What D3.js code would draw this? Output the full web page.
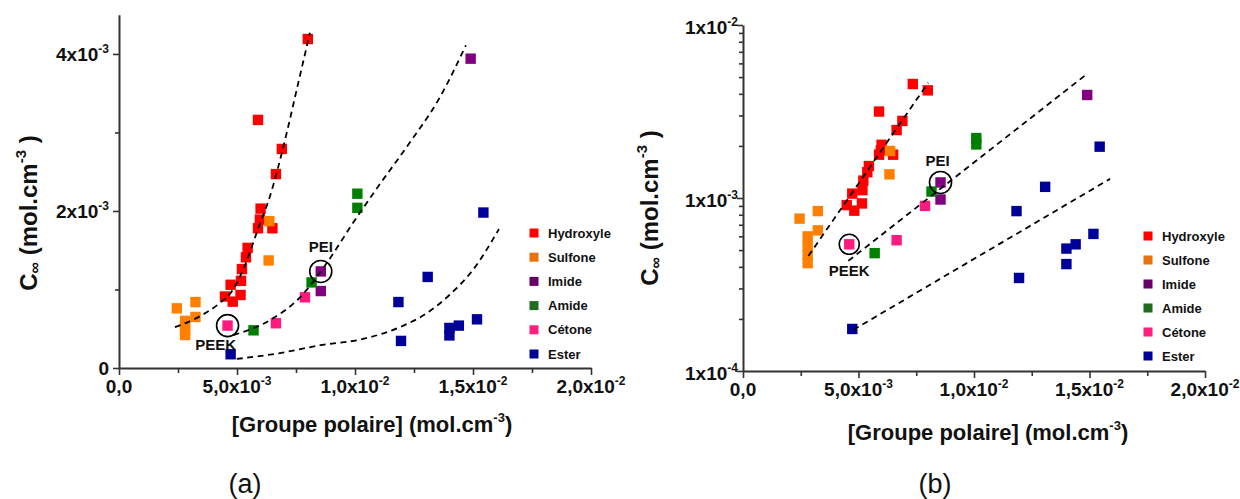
<!DOCTYPE html>
<html><head><meta charset="utf-8">
<script src="https://cdn.jsdelivr.net/npm/d3@7"></script>
<style>
body{margin:0;background:#fff}
svg{display:block}
text{font-family:"Liberation Sans",Arial,Helvetica,sans-serif}
</style>
</head><body>
<svg id="c" width="1240" height="499"></svg>
<script>
// ---------------- DATA ----------------
const categories = ["Hydroxyle","Sulfone","Imide","Amide","Cétone","Ester"];

const hydroxyleX = [7.35e-3,8.0e-3,5.89e-3,6.9e-3,6.65e-3,6.0e-3,5.97e-3,5.89e-3,6.5e-3,5.45e-3,5.38e-3,5.21e-3,5.17e-3,4.73e-3,5.15e-3,4.49e-3,4.82e-3];
const hydroxyleY = [4.56e-3,4.19e-3,3.16e-3,2.79e-3,2.47e-3,2.03e-3,1.89e-3,1.78e-3,1.78e-3,1.53e-3,1.41e-3,1.26e-3,1.11e-3,1.06e-3,0.93e-3,0.91e-3,0.845e-3];

const sulfoneX = [6.37e-3,6.34e-3,3.24e-3,3.24e-3,2.45e-3,2.8e-3,2.8e-3,2.8e-3,2.8e-3];
const sulfoneY = [1.87e-3,1.37e-3,0.84e-3,0.65e-3,0.76e-3,0.60e-3,0.53e-3,0.47e-3,0.42e-3];

const imideX = [8.55e-3,8.55e-3,14.9e-3];
const imideY = [1.23e-3,0.98e-3,3.94e-3];

const amideX = [5.7e-3,8.16e-3,10.1e-3,10.1e-3];
const amideY = [0.48e-3,1.09e-3,2.22e-3,2.04e-3];

const cetoneX = [4.6e-3,6.65e-3,7.88e-3];
const cetoneY = [0.54e-3,0.57e-3,0.90e-3];

const esterX = [4.73e-3,11.84e-3,11.95e-3,13.08e-3,14.0e-3,14.0e-3,14.4e-3,15.17e-3,15.44e-3];
const esterY = [0.175e-3,0.84e-3,0.345e-3,1.16e-3,0.51e-3,0.415e-3,0.54e-3,0.62e-3,1.98e-3];

// Fitted trend curves (linear axes)
const fitA1X = [2.37e-3,3.43e-3,4.28e-3,4.79e-3,5.34e-3,5.89e-3,6.40e-3,6.95e-3,7.58e-3,8.09e-3];
const fitA1Y = [0.52e-3,0.66e-3,0.83e-3,0.98e-3,1.31e-3,1.77e-3,2.19e-3,2.80e-3,3.61e-3,4.27e-3];
const fitA2X = [4.85e-3,6.40e-3,7.67e-3,8.81e-3,9.92e-3,10.93e-3,12.2e-3,13.6e-3,14.7e-3];
const fitA2Y = [0.42e-3,0.61e-3,0.90e-3,1.34e-3,1.85e-3,2.29e-3,2.82e-3,3.45e-3,4.11e-3];
const fitA3X = [4.99e-3,6.82e-3,8.52e-3,10.34e-3,11.9e-3,13.05e-3,14.0e-3,15.0e-3,16.1e-3];
const fitA3Y = [0.115e-3,0.19e-3,0.29e-3,0.37e-3,0.52e-3,0.70e-3,0.93e-3,1.25e-3,1.77e-3];

// Fitted trend lines (log y axis): endpoints
const fitB1X = [2.83e-3,8.02e-3];  const fitB1Y = [4.62e-4,4.64e-3];
const fitB2X = [4.56e-3,14.8e-3];  const fitB2Y = [4.33e-4,5.1e-3];
const fitB3X = [4.78e-3,15.89e-3]; const fitB3Y = [1.73e-4,1.29e-3];

// Annotated polymers
const annotNames = ["PEEK","PEI"];
const annotX = [4.6e-3,8.55e-3];
const annotY = [0.54e-3,1.23e-3];

// Ticks
const xMajorTicks = [0,0.005,0.01,0.015,0.02];
const xMinorTicks = [0.0025,0.0075,0.0125,0.0175];
const xTickBase = ["0,0","5,0x10","1,0x10","1,5x10","2,0x10"];
const xTickExp  = [null,"-3","-2","-2","-2"];
const yLinMajor = [0,0.002,0.004];
const yLinMinor = [0.001,0.003];
const yLinBase = ["0","2x10","4x10"];
const yLinExp  = [null,"-3","-3"];
const yLogMajor = [1e-4,1e-3,1e-2];
const yLogBase = ["1x10","1x10","1x10"];
const yLogExp  = ["-4","-3","-2"];

// ---------------- STYLE ----------------
const pointColors  = ["#FF0000","#FF8000","#800080","#008000","#FF1A80","#000099"];
const legendColors = ["#FF0000","#E8720C","#660066","#1F6B1F","#FF1F7F","#000099"];
const seriesX = [hydroxyleX,sulfoneX,imideX,amideX,cetoneX,esterX];
const seriesY = [hydroxyleY,sulfoneY,imideY,amideY,cetoneY,esterY];

const svg = d3.select("#c");
const TICKF = 19, SUPF = 12;

function supLabel(sel, base, exp, size, supSize) {
  sel.append("tspan").text(base);
  if (exp) sel.append("tspan").attr("font-size", supSize).attr("dy", -size*0.42).text(exp);
}

function panel(cfg) {
  const g = svg.append("g");
  const x = d3.scaleLinear().domain([0,0.02]).range([cfg.x0,cfg.x1]);
  const y = cfg.log
    ? d3.scaleLog().domain([1e-4,1e-2]).range([cfg.yBottom,cfg.yTop])
    : d3.scaleLinear().domain([0,0.0045]).range([cfg.yBottom,cfg.yTop]);
  const yMax = y.domain()[1];

  // points
  const S = 10.4;
  categories.forEach((c,i)=>{
    const pts = seriesX[i].map((v,j)=>[v,seriesY[i][j]]).filter(p=>p[1]<=yMax);
    g.append("g").selectAll("rect").data(pts).join("rect")
      .attr("x",d=>x(d[0])-S/2).attr("y",d=>y(d[1])-S/2)
      .attr("width",S).attr("height",S).attr("fill",pointColors[i]);
  });

  // fit curves
  const line = d3.line().x(d=>x(d[0])).y(d=>y(d[1]))
    .curve(cfg.log ? d3.curveLinear : d3.curveMonotoneX);
  cfg.fits.forEach(f=>{
    const pts = f[0].map((v,j)=>[v,f[1][j]]);
    g.append("path").attr("d",line(pts)).attr("fill","none")
      .attr("stroke","#000").attr("stroke-width",1.8).attr("stroke-dasharray","6,4.5");
  });

  // annotation circles and labels
  annotNames.forEach((n,i)=>{
    const cx = x(annotX[i]), cy = y(annotY[i]);
    g.append("circle").attr("cx",cx).attr("cy",cy).attr("r",cfg.circR[i])
      .attr("fill","none").attr("stroke","#000").attr("stroke-width",1.6);
    g.append("text").attr("x",cx+cfg.annOff[i][0]).attr("y",cy+cfg.annOff[i][1])
      .attr("dy","0.35em").attr("text-anchor","middle")
      .attr("font-size",15).attr("font-weight","bold").attr("fill","#111").text(n);
  });

  // axes
  const axCol = "#333";
  g.append("g").attr("transform",`translate(0,${cfg.yBottom})`)
    .call(d3.axisBottom(x).tickValues(xMajorTicks).tickSize(7).tickSizeOuter(0).tickFormat(""));
  g.append("g").attr("transform",`translate(0,${cfg.yBottom})`)
    .call(d3.axisBottom(x).tickValues(xMinorTicks).tickSize(5).tickSizeOuter(0).tickFormat(""))
    .select(".domain").remove();
  let yMinor;
  if (cfg.log) {
    yMinor = [];
    [1e-4,1e-3].forEach(d=>{ for(let k=2;k<=9;k++) yMinor.push(d*k); });
  } else yMinor = yLinMinor;
  g.append("g").attr("transform",`translate(${cfg.x0},0)`)
    .call(d3.axisLeft(y).tickValues(cfg.log?yLogMajor:yLinMajor).tickSize(6).tickSizeOuter(0).tickFormat(""));
  g.append("g").attr("transform",`translate(${cfg.x0},0)`)
    .call(d3.axisLeft(y).tickValues(yMinor).tickSize(4).tickSizeOuter(0).tickFormat(""))
    .select(".domain").remove();
  g.selectAll(".domain").attr("stroke",axCol).attr("stroke-width",2);
  g.selectAll(".tick line").attr("stroke",axCol).attr("stroke-width",1.6);

  // tick labels
  xMajorTicks.forEach((v,i)=>{
    const t = g.append("text").attr("x",x(v)).attr("y",cfg.yBottom+cfg.xLabDy)
      .attr("text-anchor","middle").attr("font-size",TICKF).attr("font-weight","bold").attr("fill","#111");
    supLabel(t,xTickBase[i],xTickExp[i],TICKF,SUPF);
  });
  const yMaj = cfg.log?yLogMajor:yLinMajor, yB = cfg.log?yLogBase:yLinBase, yE = cfg.log?yLogExp:yLinExp;
  yMaj.forEach((v,i)=>{
    const t = g.append("text").attr("x",cfg.yLabX).attr("y",y(v)+7+cfg.yLabDy)
      .attr("text-anchor","end").attr("font-size",TICKF).attr("font-weight","bold").attr("fill","#111");
    supLabel(t,yB[i],yE[i],TICKF,SUPF);
  });

  // axis titles
  const xt = g.append("text").attr("x",cfg.xTitleX).attr("y",cfg.xTitleY)
    .attr("text-anchor","middle").attr("font-size",22).attr("font-weight","bold").attr("fill","#111");
  xt.append("tspan").text("[Groupe polaire] (mol.cm");
  xt.append("tspan").attr("font-size",13).attr("dy",-10).text("-3");
  xt.append("tspan").attr("dy",10).text(")");

  const yt = g.append("text").attr("transform",`translate(${cfg.yTitleX},${cfg.yTitleY}) rotate(-90)`)
    .attr("text-anchor","middle").attr("font-size",24).attr("font-weight","bold").attr("fill","#111");
  yt.append("tspan").text("C");
  yt.append("tspan").attr("font-size",16).attr("dy",3).text("∞");
  yt.append("tspan").attr("dy",-3).text(" (mol.cm");
  yt.append("tspan").attr("font-size",15).attr("dy",-11).text("-3");
  yt.append("tspan").attr("dy",11).text(" )");

  // legend
  categories.forEach((c,i)=>{
    const ly = cfg.legY + i*cfg.legStep;
    g.append("rect").attr("x",cfg.legX-4.5).attr("y",ly-4.5).attr("width",9).attr("height",9)
      .attr("fill",legendColors[i]);
    g.append("text").attr("x",cfg.legX+14).attr("y",ly).attr("dy","0.36em")
      .attr("font-size",13).attr("font-weight","bold").attr("fill","#111").text(c);
  });

  // panel tag
  g.append("text").attr("x",cfg.tagX).attr("y",493).attr("text-anchor","middle")
    .attr("font-size",27).attr("fill","#111").text(cfg.tag);
}

panel({
  log:false, x0:119, x1:591, yBottom:368, yTop:14.7,
  fits:[[fitA1X,fitA1Y],[fitA2X,fitA2Y],[fitA3X,fitA3Y]],
  circR:[11,11], annOff:[[-12,19],[0,-25]],
  xLabDy:25, yLabX:109, yLabDy:0,
  xTitleX:372, xTitleY:432, yTitleX:37, yTitleY:213,
  legX:534, legY:233, legStep:24.2, tagX:245, tag:"(a)"
});
panel({
  log:true, x0:743, x1:1205, yBottom:371, yTop:25,
  fits:[[fitB1X,fitB1Y],[fitB2X,fitB2Y],[fitB3X,fitB3Y]],
  circR:[10,11], annOff:[[0,26],[-3,-22]],
  xLabDy:25, yLabX:738, yLabDy:2,
  xTitleX:988, xTitleY:440, yTitleX:658, yTitleY:208,
  legX:1148, legY:236, legStep:24, tagX:935, tag:"(b)"
});
</script>
</body></html>
